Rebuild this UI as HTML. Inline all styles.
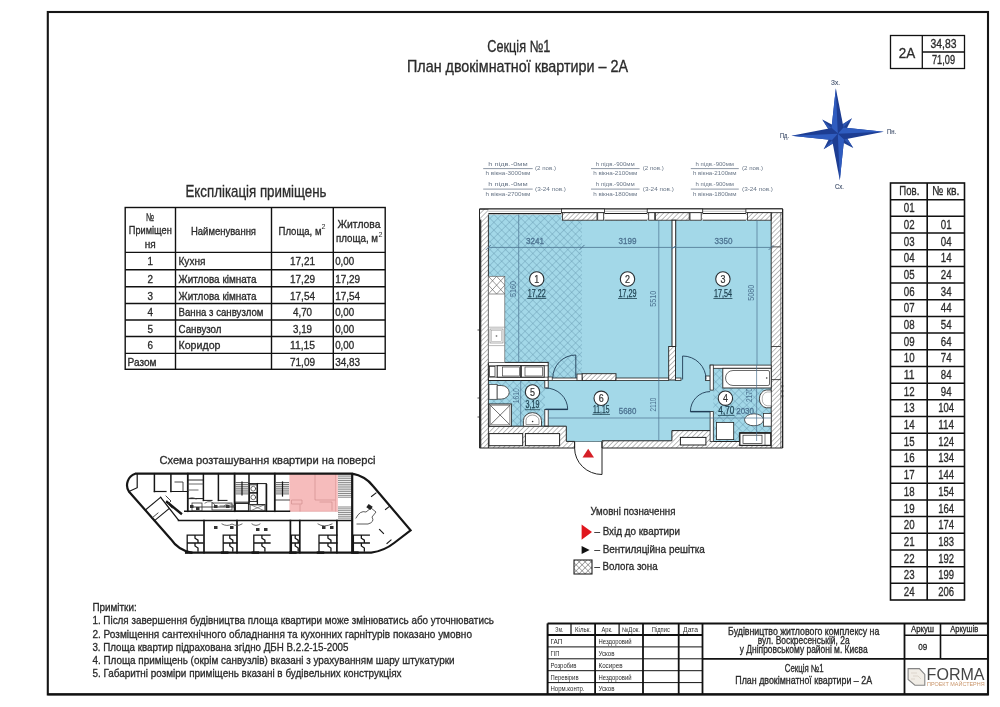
<!DOCTYPE html><html><head><meta charset="utf-8"><style>html,body{margin:0;padding:0;background:#fff;width:1000px;height:707px;overflow:hidden}svg{display:block;will-change:transform}text{font-family:"Liberation Sans",sans-serif}</style></head><body>
<svg width="1000" height="707" viewBox="0 0 1000 707">
<defs>
<pattern id="hatch" patternUnits="userSpaceOnUse" width="3.5" height="3.5" patternTransform="rotate(45)"><rect width="3.5" height="3.5" fill="#fff"/><line x1="0" y1="0" x2="0" y2="3.5" stroke="#8f8f8f" stroke-width="1.2"/></pattern>
<pattern id="cross" patternUnits="userSpaceOnUse" width="5.5" height="5.5" patternTransform="rotate(45)"><line x1="0" y1="0" x2="0" y2="5.5" stroke="#6496ad" stroke-width="0.8"/><line x1="0" y1="0" x2="5.5" y2="0" stroke="#6496ad" stroke-width="0.8"/></pattern>
<pattern id="crossk" patternUnits="userSpaceOnUse" width="4.2" height="4.2" patternTransform="rotate(45)"><line x1="0" y1="0" x2="0" y2="4.2" stroke="#333" stroke-width="0.75"/><line x1="0" y1="0" x2="4.2" y2="0" stroke="#333" stroke-width="0.75"/></pattern>
</defs>
<rect x="47.8" y="12" width="940.2" height="682.5" stroke="#161616" stroke-width="2.1" fill="none" />
<text x="518.8" y="51.8" font-size="16.2" text-anchor="middle" fill="#2b2b2b" textLength="63" lengthAdjust="spacingAndGlyphs" stroke="#2b2b2b" stroke-width="0.32">Секція №1</text>
<text x="517.5" y="71.5" font-size="16.2" text-anchor="middle" fill="#2b2b2b" textLength="221" lengthAdjust="spacingAndGlyphs" stroke="#2b2b2b" stroke-width="0.32">План двокімнатної квартири – 2А</text>
<rect x="890.5" y="35.5" width="74" height="33" stroke="#111" stroke-width="1.3" fill="none" />
<line x1="922.3" y1="35.5" x2="922.3" y2="68.5" stroke="#111" stroke-width="1.3"/>
<line x1="922.3" y1="52" x2="964.5" y2="52" stroke="#111" stroke-width="1.3"/>
<text x="907" y="57.6" font-size="15.34" text-anchor="middle" fill="#2b2b2b" textLength="16.5" lengthAdjust="spacingAndGlyphs" stroke="#2b2b2b" stroke-width="0.32">2A</text>
<text x="943.5" y="47.8" font-size="11.88" text-anchor="middle" fill="#2b2b2b" textLength="26" lengthAdjust="spacingAndGlyphs" stroke="#2b2b2b" stroke-width="0.32">34,83</text>
<text x="943.5" y="63.8" font-size="11.88" text-anchor="middle" fill="#2b2b2b" textLength="23" lengthAdjust="spacingAndGlyphs" stroke="#2b2b2b" stroke-width="0.32">71,09</text>
<g transform="translate(837.8,133.8) rotate(-2.5)">
<g transform="rotate(45)"><path d="M0,0.5 L-4.5,-4.5 L0,-21 L4.5,-4.5 Z" fill="#1e3f91"/><path d="M0,0 L-4.5,-4.5 L0,-21 Z" fill="#2d56b3"/></g>
<g transform="rotate(135)"><path d="M0,0.5 L-4.5,-4.5 L0,-21 L4.5,-4.5 Z" fill="#1e3f91"/><path d="M0,0 L-4.5,-4.5 L0,-21 Z" fill="#2d56b3"/></g>
<g transform="rotate(225)"><path d="M0,0.5 L-4.5,-4.5 L0,-21 L4.5,-4.5 Z" fill="#1e3f91"/><path d="M0,0 L-4.5,-4.5 L0,-21 Z" fill="#2d56b3"/></g>
<g transform="rotate(315)"><path d="M0,0.5 L-4.5,-4.5 L0,-21 L4.5,-4.5 Z" fill="#1e3f91"/><path d="M0,0 L-4.5,-4.5 L0,-21 Z" fill="#2d56b3"/></g>
<g transform="rotate(0)"><path d="M0,0.5 L-6.0,-6.0 L0,-45.5 L6.0,-6.0 Z" fill="#1d3d92"/><path d="M0,0 L-6.0,-6.0 L0,-45.5 Z" fill="#2f5cbf"/></g>
<g transform="rotate(90)"><path d="M0,0.5 L-6.0,-6.0 L0,-46 L6.0,-6.0 Z" fill="#1d3d92"/><path d="M0,0 L-6.0,-6.0 L0,-46 Z" fill="#2f5cbf"/></g>
<g transform="rotate(180)"><path d="M0,0.5 L-6.0,-6.0 L0,-46.5 L6.0,-6.0 Z" fill="#1d3d92"/><path d="M0,0 L-6.0,-6.0 L0,-46.5 Z" fill="#2f5cbf"/></g>
<g transform="rotate(270)"><path d="M0,0.5 L-6.0,-6.0 L0,-46.5 L6.0,-6.0 Z" fill="#1d3d92"/><path d="M0,0 L-6.0,-6.0 L0,-46.5 Z" fill="#2f5cbf"/></g>
</g>
<text x="835.5" y="84.5" font-size="6.8" text-anchor="middle" fill="#44536e" textLength="9" lengthAdjust="spacingAndGlyphs" stroke="#44536e" stroke-width="0.15">Зх.</text>
<text x="784.5" y="138" font-size="6.8" text-anchor="middle" fill="#44536e" textLength="9" lengthAdjust="spacingAndGlyphs" stroke="#44536e" stroke-width="0.15">Пд.</text>
<text x="891.5" y="134" font-size="6.8" text-anchor="middle" fill="#44536e" textLength="9" lengthAdjust="spacingAndGlyphs" stroke="#44536e" stroke-width="0.15">Пн.</text>
<text x="839.5" y="188.5" font-size="6.8" text-anchor="middle" fill="#44536e" textLength="9" lengthAdjust="spacingAndGlyphs" stroke="#44536e" stroke-width="0.15">Сх.</text>
<rect x="890.5" y="183.0" width="74.0" height="417.0" stroke="#111" stroke-width="1.6" fill="none" />
<line x1="927.2" y1="183.0" x2="927.2" y2="600.0" stroke="#111" stroke-width="1.6"/>
<line x1="890.5" y1="199.68" x2="964.5" y2="199.68" stroke="#111" stroke-width="1.5"/>
<line x1="890.5" y1="216.36" x2="964.5" y2="216.36" stroke="#111" stroke-width="1.5"/>
<line x1="890.5" y1="233.04" x2="964.5" y2="233.04" stroke="#111" stroke-width="1.5"/>
<line x1="890.5" y1="249.72" x2="964.5" y2="249.72" stroke="#111" stroke-width="1.5"/>
<line x1="890.5" y1="266.4" x2="964.5" y2="266.4" stroke="#111" stroke-width="1.5"/>
<line x1="890.5" y1="283.08" x2="964.5" y2="283.08" stroke="#111" stroke-width="1.5"/>
<line x1="890.5" y1="299.76" x2="964.5" y2="299.76" stroke="#111" stroke-width="1.5"/>
<line x1="890.5" y1="316.44" x2="964.5" y2="316.44" stroke="#111" stroke-width="1.5"/>
<line x1="890.5" y1="333.12" x2="964.5" y2="333.12" stroke="#111" stroke-width="1.5"/>
<line x1="890.5" y1="349.8" x2="964.5" y2="349.8" stroke="#111" stroke-width="1.5"/>
<line x1="890.5" y1="366.48" x2="964.5" y2="366.48" stroke="#111" stroke-width="1.5"/>
<line x1="890.5" y1="383.15999999999997" x2="964.5" y2="383.15999999999997" stroke="#111" stroke-width="1.5"/>
<line x1="890.5" y1="399.84000000000003" x2="964.5" y2="399.84000000000003" stroke="#111" stroke-width="1.5"/>
<line x1="890.5" y1="416.52" x2="964.5" y2="416.52" stroke="#111" stroke-width="1.5"/>
<line x1="890.5" y1="433.2" x2="964.5" y2="433.2" stroke="#111" stroke-width="1.5"/>
<line x1="890.5" y1="449.88" x2="964.5" y2="449.88" stroke="#111" stroke-width="1.5"/>
<line x1="890.5" y1="466.56" x2="964.5" y2="466.56" stroke="#111" stroke-width="1.5"/>
<line x1="890.5" y1="483.24" x2="964.5" y2="483.24" stroke="#111" stroke-width="1.5"/>
<line x1="890.5" y1="499.92" x2="964.5" y2="499.92" stroke="#111" stroke-width="1.5"/>
<line x1="890.5" y1="516.6" x2="964.5" y2="516.6" stroke="#111" stroke-width="1.5"/>
<line x1="890.5" y1="533.28" x2="964.5" y2="533.28" stroke="#111" stroke-width="1.5"/>
<line x1="890.5" y1="549.96" x2="964.5" y2="549.96" stroke="#111" stroke-width="1.5"/>
<line x1="890.5" y1="566.64" x2="964.5" y2="566.64" stroke="#111" stroke-width="1.5"/>
<line x1="890.5" y1="583.3199999999999" x2="964.5" y2="583.3199999999999" stroke="#111" stroke-width="1.5"/>
<text x="909.35" y="195.3" font-size="12.96" text-anchor="middle" fill="#2b2b2b" textLength="20" lengthAdjust="spacingAndGlyphs" stroke="#2b2b2b" stroke-width="0.32">Пов.</text>
<text x="945.85" y="195.3" font-size="12.96" text-anchor="middle" fill="#2b2b2b" textLength="27" lengthAdjust="spacingAndGlyphs" stroke="#2b2b2b" stroke-width="0.32">№ кв.</text>
<text x="909.15" y="212.28" font-size="12.96" text-anchor="middle" fill="#2b2b2b" textLength="10.8" lengthAdjust="spacingAndGlyphs" stroke="#2b2b2b" stroke-width="0.32">01</text>
<text x="909.15" y="228.96" font-size="12.96" text-anchor="middle" fill="#2b2b2b" textLength="10.8" lengthAdjust="spacingAndGlyphs" stroke="#2b2b2b" stroke-width="0.32">02</text>
<text x="946.15" y="228.96" font-size="12.96" text-anchor="middle" fill="#2b2b2b" textLength="10.8" lengthAdjust="spacingAndGlyphs" stroke="#2b2b2b" stroke-width="0.32">01</text>
<text x="909.15" y="245.64" font-size="12.96" text-anchor="middle" fill="#2b2b2b" textLength="10.8" lengthAdjust="spacingAndGlyphs" stroke="#2b2b2b" stroke-width="0.32">03</text>
<text x="946.15" y="245.64" font-size="12.96" text-anchor="middle" fill="#2b2b2b" textLength="10.8" lengthAdjust="spacingAndGlyphs" stroke="#2b2b2b" stroke-width="0.32">04</text>
<text x="909.15" y="262.32" font-size="12.96" text-anchor="middle" fill="#2b2b2b" textLength="10.8" lengthAdjust="spacingAndGlyphs" stroke="#2b2b2b" stroke-width="0.32">04</text>
<text x="946.15" y="262.32" font-size="12.96" text-anchor="middle" fill="#2b2b2b" textLength="10.8" lengthAdjust="spacingAndGlyphs" stroke="#2b2b2b" stroke-width="0.32">14</text>
<text x="909.15" y="279.0" font-size="12.96" text-anchor="middle" fill="#2b2b2b" textLength="10.8" lengthAdjust="spacingAndGlyphs" stroke="#2b2b2b" stroke-width="0.32">05</text>
<text x="946.15" y="279.0" font-size="12.96" text-anchor="middle" fill="#2b2b2b" textLength="10.8" lengthAdjust="spacingAndGlyphs" stroke="#2b2b2b" stroke-width="0.32">24</text>
<text x="909.15" y="295.68" font-size="12.96" text-anchor="middle" fill="#2b2b2b" textLength="10.8" lengthAdjust="spacingAndGlyphs" stroke="#2b2b2b" stroke-width="0.32">06</text>
<text x="946.15" y="295.68" font-size="12.96" text-anchor="middle" fill="#2b2b2b" textLength="10.8" lengthAdjust="spacingAndGlyphs" stroke="#2b2b2b" stroke-width="0.32">34</text>
<text x="909.15" y="312.36" font-size="12.96" text-anchor="middle" fill="#2b2b2b" textLength="10.8" lengthAdjust="spacingAndGlyphs" stroke="#2b2b2b" stroke-width="0.32">07</text>
<text x="946.15" y="312.36" font-size="12.96" text-anchor="middle" fill="#2b2b2b" textLength="10.8" lengthAdjust="spacingAndGlyphs" stroke="#2b2b2b" stroke-width="0.32">44</text>
<text x="909.15" y="329.04" font-size="12.96" text-anchor="middle" fill="#2b2b2b" textLength="10.8" lengthAdjust="spacingAndGlyphs" stroke="#2b2b2b" stroke-width="0.32">08</text>
<text x="946.15" y="329.04" font-size="12.96" text-anchor="middle" fill="#2b2b2b" textLength="10.8" lengthAdjust="spacingAndGlyphs" stroke="#2b2b2b" stroke-width="0.32">54</text>
<text x="909.15" y="345.72" font-size="12.96" text-anchor="middle" fill="#2b2b2b" textLength="10.8" lengthAdjust="spacingAndGlyphs" stroke="#2b2b2b" stroke-width="0.32">09</text>
<text x="946.15" y="345.72" font-size="12.96" text-anchor="middle" fill="#2b2b2b" textLength="10.8" lengthAdjust="spacingAndGlyphs" stroke="#2b2b2b" stroke-width="0.32">64</text>
<text x="909.15" y="362.40000000000003" font-size="12.96" text-anchor="middle" fill="#2b2b2b" textLength="10.8" lengthAdjust="spacingAndGlyphs" stroke="#2b2b2b" stroke-width="0.32">10</text>
<text x="946.15" y="362.40000000000003" font-size="12.96" text-anchor="middle" fill="#2b2b2b" textLength="10.8" lengthAdjust="spacingAndGlyphs" stroke="#2b2b2b" stroke-width="0.32">74</text>
<text x="909.15" y="379.08000000000004" font-size="12.96" text-anchor="middle" fill="#2b2b2b" textLength="10.8" lengthAdjust="spacingAndGlyphs" stroke="#2b2b2b" stroke-width="0.32">11</text>
<text x="946.15" y="379.08000000000004" font-size="12.96" text-anchor="middle" fill="#2b2b2b" textLength="10.8" lengthAdjust="spacingAndGlyphs" stroke="#2b2b2b" stroke-width="0.32">84</text>
<text x="909.15" y="395.76" font-size="12.96" text-anchor="middle" fill="#2b2b2b" textLength="10.8" lengthAdjust="spacingAndGlyphs" stroke="#2b2b2b" stroke-width="0.32">12</text>
<text x="946.15" y="395.76" font-size="12.96" text-anchor="middle" fill="#2b2b2b" textLength="10.8" lengthAdjust="spacingAndGlyphs" stroke="#2b2b2b" stroke-width="0.32">94</text>
<text x="909.15" y="412.44000000000005" font-size="12.96" text-anchor="middle" fill="#2b2b2b" textLength="10.8" lengthAdjust="spacingAndGlyphs" stroke="#2b2b2b" stroke-width="0.32">13</text>
<text x="946.15" y="412.44000000000005" font-size="12.96" text-anchor="middle" fill="#2b2b2b" textLength="15.8" lengthAdjust="spacingAndGlyphs" stroke="#2b2b2b" stroke-width="0.32">104</text>
<text x="909.15" y="429.12" font-size="12.96" text-anchor="middle" fill="#2b2b2b" textLength="10.8" lengthAdjust="spacingAndGlyphs" stroke="#2b2b2b" stroke-width="0.32">14</text>
<text x="946.15" y="429.12" font-size="12.96" text-anchor="middle" fill="#2b2b2b" textLength="15.8" lengthAdjust="spacingAndGlyphs" stroke="#2b2b2b" stroke-width="0.32">114</text>
<text x="909.15" y="445.8" font-size="12.96" text-anchor="middle" fill="#2b2b2b" textLength="10.8" lengthAdjust="spacingAndGlyphs" stroke="#2b2b2b" stroke-width="0.32">15</text>
<text x="946.15" y="445.8" font-size="12.96" text-anchor="middle" fill="#2b2b2b" textLength="15.8" lengthAdjust="spacingAndGlyphs" stroke="#2b2b2b" stroke-width="0.32">124</text>
<text x="909.15" y="462.48" font-size="12.96" text-anchor="middle" fill="#2b2b2b" textLength="10.8" lengthAdjust="spacingAndGlyphs" stroke="#2b2b2b" stroke-width="0.32">16</text>
<text x="946.15" y="462.48" font-size="12.96" text-anchor="middle" fill="#2b2b2b" textLength="15.8" lengthAdjust="spacingAndGlyphs" stroke="#2b2b2b" stroke-width="0.32">134</text>
<text x="909.15" y="479.16" font-size="12.96" text-anchor="middle" fill="#2b2b2b" textLength="10.8" lengthAdjust="spacingAndGlyphs" stroke="#2b2b2b" stroke-width="0.32">17</text>
<text x="946.15" y="479.16" font-size="12.96" text-anchor="middle" fill="#2b2b2b" textLength="15.8" lengthAdjust="spacingAndGlyphs" stroke="#2b2b2b" stroke-width="0.32">144</text>
<text x="909.15" y="495.84000000000003" font-size="12.96" text-anchor="middle" fill="#2b2b2b" textLength="10.8" lengthAdjust="spacingAndGlyphs" stroke="#2b2b2b" stroke-width="0.32">18</text>
<text x="946.15" y="495.84000000000003" font-size="12.96" text-anchor="middle" fill="#2b2b2b" textLength="15.8" lengthAdjust="spacingAndGlyphs" stroke="#2b2b2b" stroke-width="0.32">154</text>
<text x="909.15" y="512.52" font-size="12.96" text-anchor="middle" fill="#2b2b2b" textLength="10.8" lengthAdjust="spacingAndGlyphs" stroke="#2b2b2b" stroke-width="0.32">19</text>
<text x="946.15" y="512.52" font-size="12.96" text-anchor="middle" fill="#2b2b2b" textLength="15.8" lengthAdjust="spacingAndGlyphs" stroke="#2b2b2b" stroke-width="0.32">164</text>
<text x="909.15" y="529.2" font-size="12.96" text-anchor="middle" fill="#2b2b2b" textLength="10.8" lengthAdjust="spacingAndGlyphs" stroke="#2b2b2b" stroke-width="0.32">20</text>
<text x="946.15" y="529.2" font-size="12.96" text-anchor="middle" fill="#2b2b2b" textLength="15.8" lengthAdjust="spacingAndGlyphs" stroke="#2b2b2b" stroke-width="0.32">174</text>
<text x="909.15" y="545.88" font-size="12.96" text-anchor="middle" fill="#2b2b2b" textLength="10.8" lengthAdjust="spacingAndGlyphs" stroke="#2b2b2b" stroke-width="0.32">21</text>
<text x="946.15" y="545.88" font-size="12.96" text-anchor="middle" fill="#2b2b2b" textLength="15.8" lengthAdjust="spacingAndGlyphs" stroke="#2b2b2b" stroke-width="0.32">183</text>
<text x="909.15" y="562.5600000000001" font-size="12.96" text-anchor="middle" fill="#2b2b2b" textLength="10.8" lengthAdjust="spacingAndGlyphs" stroke="#2b2b2b" stroke-width="0.32">22</text>
<text x="946.15" y="562.5600000000001" font-size="12.96" text-anchor="middle" fill="#2b2b2b" textLength="15.8" lengthAdjust="spacingAndGlyphs" stroke="#2b2b2b" stroke-width="0.32">192</text>
<text x="909.15" y="579.24" font-size="12.96" text-anchor="middle" fill="#2b2b2b" textLength="10.8" lengthAdjust="spacingAndGlyphs" stroke="#2b2b2b" stroke-width="0.32">23</text>
<text x="946.15" y="579.24" font-size="12.96" text-anchor="middle" fill="#2b2b2b" textLength="15.8" lengthAdjust="spacingAndGlyphs" stroke="#2b2b2b" stroke-width="0.32">199</text>
<text x="909.15" y="595.92" font-size="12.96" text-anchor="middle" fill="#2b2b2b" textLength="10.8" lengthAdjust="spacingAndGlyphs" stroke="#2b2b2b" stroke-width="0.32">24</text>
<text x="946.15" y="595.92" font-size="12.96" text-anchor="middle" fill="#2b2b2b" textLength="15.8" lengthAdjust="spacingAndGlyphs" stroke="#2b2b2b" stroke-width="0.32">206</text>
<text x="256" y="197" font-size="16.2" text-anchor="middle" fill="#2b2b2b" textLength="141" lengthAdjust="spacingAndGlyphs" stroke="#2b2b2b" stroke-width="0.32">Експлікація приміщень</text>
<rect x="125.2" y="207.5" width="260.0" height="161.8" stroke="#111" stroke-width="1.4" fill="none" />
<line x1="175.5" y1="207.5" x2="175.5" y2="369.3" stroke="#111" stroke-width="1.4"/>
<line x1="271.5" y1="207.5" x2="271.5" y2="369.3" stroke="#111" stroke-width="1.4"/>
<line x1="333.3" y1="207.5" x2="333.3" y2="369.3" stroke="#111" stroke-width="1.4"/>
<line x1="125.2" y1="252.4" x2="385.2" y2="252.4" stroke="#111" stroke-width="1.4"/>
<line x1="125.2" y1="269.8" x2="385.2" y2="269.8" stroke="#111" stroke-width="1.4"/>
<line x1="125.2" y1="286.7" x2="385.2" y2="286.7" stroke="#111" stroke-width="1.4"/>
<line x1="125.2" y1="303.5" x2="385.2" y2="303.5" stroke="#111" stroke-width="1.4"/>
<line x1="125.2" y1="320.0" x2="385.2" y2="320.0" stroke="#111" stroke-width="1.4"/>
<line x1="125.2" y1="336.5" x2="385.2" y2="336.5" stroke="#111" stroke-width="1.4"/>
<line x1="125.2" y1="353.4" x2="385.2" y2="353.4" stroke="#111" stroke-width="1.4"/>
<text x="150" y="221.3" font-size="11.34" text-anchor="middle" fill="#2b2b2b" textLength="8" lengthAdjust="spacingAndGlyphs" stroke="#2b2b2b" stroke-width="0.32">№</text>
<text x="150.3" y="233.5" font-size="10.8" text-anchor="middle" fill="#2b2b2b" textLength="43" lengthAdjust="spacingAndGlyphs" stroke="#2b2b2b" stroke-width="0.32">Приміщен</text>
<text x="150.3" y="247.5" font-size="10.8" text-anchor="middle" fill="#2b2b2b" textLength="11" lengthAdjust="spacingAndGlyphs" stroke="#2b2b2b" stroke-width="0.32">ня</text>
<text x="223.5" y="235" font-size="10.8" text-anchor="middle" fill="#2b2b2b" textLength="65" lengthAdjust="spacingAndGlyphs" stroke="#2b2b2b" stroke-width="0.32">Найменування</text>
<text x="300" y="234.5" font-size="10.8" text-anchor="middle" fill="#2b2b2b" textLength="43" lengthAdjust="spacingAndGlyphs" stroke="#2b2b2b" stroke-width="0.32">Площа, м</text>
<text x="323.5" y="229" font-size="7" text-anchor="middle" fill="#2b2b2b" textLength="4" lengthAdjust="spacingAndGlyphs" >2</text>
<text x="359" y="228" font-size="10.8" text-anchor="middle" fill="#2b2b2b" textLength="43" lengthAdjust="spacingAndGlyphs" stroke="#2b2b2b" stroke-width="0.32">Житлова</text>
<text x="357" y="242" font-size="10.8" text-anchor="middle" fill="#2b2b2b" textLength="42" lengthAdjust="spacingAndGlyphs" stroke="#2b2b2b" stroke-width="0.32">площа, м</text>
<text x="380.5" y="237" font-size="7" text-anchor="middle" fill="#2b2b2b" textLength="4" lengthAdjust="spacingAndGlyphs" >2</text>
<text x="150.3" y="265.2" font-size="10.8" text-anchor="middle" fill="#2b2b2b" textLength="5.5" lengthAdjust="spacingAndGlyphs" stroke="#2b2b2b" stroke-width="0.32">1</text>
<text x="178.5" y="265.2" font-size="10.8" text-anchor="start" fill="#2b2b2b" textLength="27" lengthAdjust="spacingAndGlyphs" stroke="#2b2b2b" stroke-width="0.32">Кухня</text>
<text x="302.5" y="265.2" font-size="10.8" text-anchor="middle" fill="#2b2b2b" textLength="25" lengthAdjust="spacingAndGlyphs" stroke="#2b2b2b" stroke-width="0.32">17,21</text>
<text x="335.2" y="265.2" font-size="10.8" text-anchor="start" fill="#2b2b2b" textLength="19" lengthAdjust="spacingAndGlyphs" stroke="#2b2b2b" stroke-width="0.32">0,00</text>
<text x="150.3" y="282.6" font-size="10.8" text-anchor="middle" fill="#2b2b2b" textLength="5.5" lengthAdjust="spacingAndGlyphs" stroke="#2b2b2b" stroke-width="0.32">2</text>
<text x="178.5" y="282.6" font-size="10.8" text-anchor="start" fill="#2b2b2b" textLength="78" lengthAdjust="spacingAndGlyphs" stroke="#2b2b2b" stroke-width="0.32">Житлова кімната</text>
<text x="302.5" y="282.6" font-size="10.8" text-anchor="middle" fill="#2b2b2b" textLength="25" lengthAdjust="spacingAndGlyphs" stroke="#2b2b2b" stroke-width="0.32">17,29</text>
<text x="335.2" y="282.6" font-size="10.8" text-anchor="start" fill="#2b2b2b" textLength="25" lengthAdjust="spacingAndGlyphs" stroke="#2b2b2b" stroke-width="0.32">17,29</text>
<text x="150.3" y="299.5" font-size="10.8" text-anchor="middle" fill="#2b2b2b" textLength="5.5" lengthAdjust="spacingAndGlyphs" stroke="#2b2b2b" stroke-width="0.32">3</text>
<text x="178.5" y="299.5" font-size="10.8" text-anchor="start" fill="#2b2b2b" textLength="78" lengthAdjust="spacingAndGlyphs" stroke="#2b2b2b" stroke-width="0.32">Житлова кімната</text>
<text x="302.5" y="299.5" font-size="10.8" text-anchor="middle" fill="#2b2b2b" textLength="25" lengthAdjust="spacingAndGlyphs" stroke="#2b2b2b" stroke-width="0.32">17,54</text>
<text x="335.2" y="299.5" font-size="10.8" text-anchor="start" fill="#2b2b2b" textLength="25" lengthAdjust="spacingAndGlyphs" stroke="#2b2b2b" stroke-width="0.32">17,54</text>
<text x="150.3" y="316.3" font-size="10.8" text-anchor="middle" fill="#2b2b2b" textLength="5.5" lengthAdjust="spacingAndGlyphs" stroke="#2b2b2b" stroke-width="0.32">4</text>
<text x="178.5" y="316.3" font-size="10.8" text-anchor="start" fill="#2b2b2b" textLength="85" lengthAdjust="spacingAndGlyphs" stroke="#2b2b2b" stroke-width="0.32">Ванна з санвузлом</text>
<text x="302.5" y="316.3" font-size="10.8" text-anchor="middle" fill="#2b2b2b" textLength="19" lengthAdjust="spacingAndGlyphs" stroke="#2b2b2b" stroke-width="0.32">4,70</text>
<text x="335.2" y="316.3" font-size="10.8" text-anchor="start" fill="#2b2b2b" textLength="19" lengthAdjust="spacingAndGlyphs" stroke="#2b2b2b" stroke-width="0.32">0,00</text>
<text x="150.3" y="332.8" font-size="10.8" text-anchor="middle" fill="#2b2b2b" textLength="5.5" lengthAdjust="spacingAndGlyphs" stroke="#2b2b2b" stroke-width="0.32">5</text>
<text x="178.5" y="332.8" font-size="10.8" text-anchor="start" fill="#2b2b2b" textLength="43" lengthAdjust="spacingAndGlyphs" stroke="#2b2b2b" stroke-width="0.32">Санвузол</text>
<text x="302.5" y="332.8" font-size="10.8" text-anchor="middle" fill="#2b2b2b" textLength="19" lengthAdjust="spacingAndGlyphs" stroke="#2b2b2b" stroke-width="0.32">3,19</text>
<text x="335.2" y="332.8" font-size="10.8" text-anchor="start" fill="#2b2b2b" textLength="19" lengthAdjust="spacingAndGlyphs" stroke="#2b2b2b" stroke-width="0.32">0,00</text>
<text x="150.3" y="349.3" font-size="10.8" text-anchor="middle" fill="#2b2b2b" textLength="5.5" lengthAdjust="spacingAndGlyphs" stroke="#2b2b2b" stroke-width="0.32">6</text>
<text x="178.5" y="349.3" font-size="10.8" text-anchor="start" fill="#2b2b2b" textLength="42" lengthAdjust="spacingAndGlyphs" stroke="#2b2b2b" stroke-width="0.32">Коридор</text>
<text x="302.5" y="349.3" font-size="10.8" text-anchor="middle" fill="#2b2b2b" textLength="25" lengthAdjust="spacingAndGlyphs" stroke="#2b2b2b" stroke-width="0.32">11,15</text>
<text x="335.2" y="349.3" font-size="10.8" text-anchor="start" fill="#2b2b2b" textLength="19" lengthAdjust="spacingAndGlyphs" stroke="#2b2b2b" stroke-width="0.32">0,00</text>
<text x="127.5" y="366.2" font-size="10.8" text-anchor="start" fill="#2b2b2b" textLength="29" lengthAdjust="spacingAndGlyphs" stroke="#2b2b2b" stroke-width="0.32">Разом</text>
<text x="302.5" y="366.2" font-size="10.8" text-anchor="middle" fill="#2b2b2b" textLength="25" lengthAdjust="spacingAndGlyphs" stroke="#2b2b2b" stroke-width="0.32">71,09</text>
<text x="335.2" y="366.2" font-size="10.8" text-anchor="start" fill="#2b2b2b" textLength="25" lengthAdjust="spacingAndGlyphs" stroke="#2b2b2b" stroke-width="0.32">34,83</text>
<g id="plan">
<polygon points="479.5,209 782.6,209 782.6,448 602,448 602,441.4 574.6,441.4 574.6,448 479.5,448" fill="url(#hatch)" stroke="#222" stroke-width="1.0" />
<polygon points="488.4,214.5 561.4,214.5 561.4,220.2 771.2,220.2 771.2,432.6 739.4,432.6 739.4,441.5 710.1,441.5 710.1,430.6 671.9,430.6 671.9,440.8 602,440.8 602,441.4 566.3,441.4 566.3,426.2 488.4,426.2" fill="#a3d8e8" stroke="none" stroke-width="0" />
<rect x="488.4" y="214.5" width="93.6" height="147.9" stroke="none" stroke-width="0" fill="url(#cross)" />
<rect x="548.2" y="362.4" width="33.8" height="15.6" stroke="none" stroke-width="0" fill="url(#cross)" />
<rect x="488.4" y="380.5" width="56.4" height="45.7" stroke="none" stroke-width="0" fill="url(#cross)" />
<polygon points="713.3,368.3 771.2,368.3 771.2,432.6 739.4,432.6 739.4,441.5 713.3,441.5" fill="url(#cross)" stroke="none" stroke-width="0" />
<rect x="488.4" y="209" width="73.0" height="5.5" stroke="none" stroke-width="0" fill="#fff" />
<line x1="488.4" y1="211.3" x2="561.4" y2="211.3" stroke="#888" stroke-width="0.5"/>
<line x1="488.4" y1="213.6" x2="561.4" y2="213.6" stroke="#222" stroke-width="1.1"/>
<rect x="604.5" y="209" width="42.700000000000045" height="5.5" stroke="none" stroke-width="0" fill="#fff" />
<line x1="604.5" y1="211.3" x2="647.2" y2="211.3" stroke="#888" stroke-width="0.5"/>
<line x1="604.5" y1="213.6" x2="647.2" y2="213.6" stroke="#222" stroke-width="1.1"/>
<rect x="702.7" y="209" width="43.19999999999993" height="5.5" stroke="none" stroke-width="0" fill="#fff" />
<line x1="702.7" y1="211.3" x2="745.9" y2="211.3" stroke="#888" stroke-width="0.5"/>
<line x1="702.7" y1="213.6" x2="745.9" y2="213.6" stroke="#222" stroke-width="1.1"/>
<rect x="604.5" y="214" width="42.700000000000045" height="6.2" stroke="none" stroke-width="0" fill="#fff" />
<line x1="604.5" y1="220.2" x2="647.2" y2="220.2" stroke="#222" stroke-width="0.9"/>
<rect x="702.7" y="214" width="43.19999999999993" height="6.2" stroke="none" stroke-width="0" fill="#fff" />
<line x1="702.7" y1="220.2" x2="745.9" y2="220.2" stroke="#222" stroke-width="0.9"/>
<line x1="479.5" y1="209" x2="782.6" y2="209" stroke="#222" stroke-width="1.1"/>
<rect x="561.4" y="209" width="43.10000000000002" height="3.7" stroke="#222" stroke-width="0.8" fill="#fff" />
<rect x="647.2" y="209" width="55.5" height="3.7" stroke="#222" stroke-width="0.8" fill="#fff" />
<rect x="745.9" y="209" width="36.700000000000045" height="3.7" stroke="#222" stroke-width="0.8" fill="#fff" />
<rect x="562.5" y="212.7" width="34.5" height="7.5" stroke="#222" stroke-width="0.8" fill="url(#hatch)" />
<rect x="597.7" y="212.7" width="6" height="7.5" stroke="#222" stroke-width="0.8" fill="#fff" />
<rect x="648.7" y="212.7" width="6" height="7.5" stroke="#222" stroke-width="0.8" fill="#fff" />
<rect x="655.5" y="212.7" width="33.7" height="7.5" stroke="#222" stroke-width="0.8" fill="url(#hatch)" />
<rect x="690" y="212.7" width="11.2" height="7.5" stroke="#222" stroke-width="0.8" fill="#fff" />
<rect x="747.5" y="212.7" width="23.7" height="7.5" stroke="#222" stroke-width="0.8" fill="url(#hatch)" />
<line x1="479.5" y1="209" x2="479.5" y2="448" stroke="#222" stroke-width="1.0"/>
<line x1="480.4" y1="219.5" x2="480.4" y2="448" stroke="#333" stroke-width="1.8"/>
<line x1="488.4" y1="214.5" x2="488.4" y2="448" stroke="#222" stroke-width="0.9"/>
<line x1="771.2" y1="212.7" x2="771.2" y2="448" stroke="#222" stroke-width="0.9"/>
<line x1="780.8" y1="212.7" x2="780.8" y2="448" stroke="#222" stroke-width="0.6"/>
<line x1="782.6" y1="209" x2="782.6" y2="448" stroke="#222" stroke-width="1.2"/>
<line x1="771.2" y1="246.9" x2="780.8" y2="246.9" stroke="#222" stroke-width="0.8"/>
<line x1="771.2" y1="346.5" x2="780.8" y2="346.5" stroke="#222" stroke-width="0.8"/>
<line x1="771.2" y1="379.6" x2="780.8" y2="379.6" stroke="#222" stroke-width="0.8"/>
<line x1="780.8" y1="386" x2="783.5" y2="386" stroke="#222" stroke-width="0.8"/>
<line x1="780.8" y1="391" x2="783.5" y2="391" stroke="#222" stroke-width="0.8"/>
<line x1="780.8" y1="396" x2="783.5" y2="396" stroke="#222" stroke-width="0.8"/>
<line x1="477.5" y1="330" x2="480" y2="330" stroke="#222" stroke-width="0.8"/>
<line x1="477.5" y1="398" x2="480" y2="398" stroke="#222" stroke-width="0.8"/>
<line x1="477.5" y1="417" x2="480" y2="417" stroke="#222" stroke-width="0.8"/>
<rect x="672" y="220.2" width="3.7" height="126.3" stroke="#222" stroke-width="1.0" fill="#fff" />
<rect x="668.7" y="346.5" width="6.8" height="33.5" stroke="#222" stroke-width="0.9" fill="url(#hatch)" />
<rect x="582" y="373.7" width="34" height="6.8" stroke="#222" stroke-width="0.9" fill="url(#hatch)" />
<rect x="548.2" y="378" width="33.8" height="2.5" stroke="#222" stroke-width="0.8" fill="#fff" />
<rect x="616" y="378" width="52.7" height="2.5" stroke="#222" stroke-width="0.8" fill="#fff" />
<rect x="675.5" y="378" width="5.5" height="2.5" stroke="#222" stroke-width="0.8" fill="#fff" />
<rect x="705.5" y="376" width="4.6" height="4.5" stroke="#222" stroke-width="0.8" fill="#fff" />
<rect x="577" y="374" width="5" height="6.5" stroke="#222" stroke-width="0.8" fill="#fff" />
<rect x="488.4" y="362.4" width="59.8" height="18.1" stroke="#222" stroke-width="1.0" fill="#fff" />
<line x1="488.4" y1="365.7" x2="548.2" y2="365.7" stroke="#222" stroke-width="0.7"/>
<line x1="488.4" y1="377.2" x2="548.2" y2="377.2" stroke="#222" stroke-width="0.7"/>
<rect x="489.4" y="366.5" width="5.6" height="10" stroke="#222" stroke-width="0.7" fill="#fff" />
<rect x="497.2" y="365.7" width="23.5" height="11.5" stroke="#222" stroke-width="1.0" fill="#fff" />
<rect x="502.5" y="367" width="16.8" height="9" stroke="#222" stroke-width="0.6" fill="#fff" />
<rect x="521.3" y="365.7" width="22.9" height="11.5" stroke="#222" stroke-width="1.0" fill="#fff" />
<rect x="525" y="367" width="17.5" height="9" stroke="#222" stroke-width="0.6" fill="#fff" />
<rect x="548.2" y="377" width="4" height="3.5" stroke="#222" stroke-width="0.7" fill="#fff" />
<rect x="544.8" y="380.5" width="3.4" height="7.5" stroke="#222" stroke-width="0.8" fill="#fff" />
<rect x="544.8" y="409.4" width="3.4" height="16.8" stroke="#222" stroke-width="0.8" fill="#fff" />
<rect x="710.1" y="365.1" width="61.1" height="3.2" stroke="#222" stroke-width="0.8" fill="#fff" />
<rect x="710.1" y="365.1" width="3.2" height="25" stroke="#222" stroke-width="0.8" fill="#fff" />
<rect x="710.1" y="411.6" width="3.2" height="29.9" stroke="#222" stroke-width="0.8" fill="#fff" />
<path d="M488.4,426.2 H566.3 V441.4 H574.6 V448 M602,448 V440.8 H671.9 V430.6 H710.1 M713.3,441.5 H739.4 V432.6 H771.2" fill="none" stroke="#222" stroke-width="1.0" />
<rect x="489" y="433.6" width="33.7" height="12.1" stroke="#222" stroke-width="1.0" fill="#fff" />
<rect x="525.4" y="433.6" width="34.2" height="12.1" stroke="#222" stroke-width="1.0" fill="#fff" />
<rect x="680.4" y="437.4" width="25.5" height="7.6" stroke="#222" stroke-width="1.0" fill="#fff" />
<rect x="739.8" y="433.2" width="31" height="12.2" stroke="#222" stroke-width="1.3" fill="#fff" />
<rect x="743" y="435.2" width="19" height="8.2" stroke="#222" stroke-width="0.7" fill="#fff" />
<line x1="765" y1="433.2" x2="765" y2="445.4" stroke="#222" stroke-width="0.6"/>
<rect x="488.4" y="276.3" width="16.4" height="86.1" stroke="#666" stroke-width="0.7" fill="#fff" />
<path d="M488.4,276.3 L504.8,294 M504.8,276.3 L488.4,294 M496.6,276.3 L488.4,285.15 L496.6,294 L504.8,285.15 Z" fill="none" stroke="#555" stroke-width="0.6" />
<line x1="488.4" y1="294" x2="504.8" y2="294" stroke="#666" stroke-width="0.7"/>
<line x1="488.4" y1="327.2" x2="504.8" y2="327.2" stroke="#888" stroke-width="0.6"/>
<line x1="488.4" y1="345.6" x2="504.8" y2="345.6" stroke="#888" stroke-width="0.6"/>
<rect x="490" y="329" width="13" height="14" stroke="#777" stroke-width="0.6" fill="#fff" />
<rect x="491.5" y="330.5" width="10" height="11" stroke="#999" stroke-width="0.5" fill="none" />
<circle cx="496.5" cy="336" r="0.9" fill="#888"/>
<rect x="489" y="384.5" width="8.2" height="14.8" stroke="#333" stroke-width="0.7" fill="#fff" />
<path d="M497.2,385.5 h4 a8,6.8 0 0 1 0,13.6 h-4 z" fill="#fff" stroke="#333" stroke-width="0.8" />
<rect x="489" y="404" width="22.3" height="22.2" stroke="#222" stroke-width="1.0" fill="#fff" />
<rect x="490.5" y="405.5" width="19.3" height="19.2" stroke="#555" stroke-width="0.5" fill="none" />
<line x1="490.5" y1="405.5" x2="509.8" y2="424.7" stroke="#333" stroke-width="0.7"/>
<line x1="509.8" y1="405.5" x2="490.5" y2="424.7" stroke="#333" stroke-width="0.7"/>
<path d="M523.4,426.2 v-5.5 a9,8 0 0 1 18.1,0 v5.5 z" fill="#fff" stroke="#333" stroke-width="0.9" />
<path d="M526,424.5 v-4 a6.5,5.5 0 0 1 13,0 v4 z" fill="#fff" stroke="#555" stroke-width="0.6" />
<circle cx="532.6" cy="421.5" r="0.8" fill="#333"/>
<rect x="722.8" y="368.3" width="48.4" height="19.7" stroke="#222" stroke-width="0.9" fill="#fff" />
<path d="M733,370.5 h35 a1.5,1.5 0 0 1 1.5,1.5 v12 a1.5,1.5 0 0 1 -1.5,1.5 h-35 a7.5,7.5 0 0 1 0,-15 z" fill="#fff" stroke="#444" stroke-width="0.8" />
<circle cx="766.7" cy="378" r="0.8" fill="#333"/>
<path d="M771.2,390 h-5 a8,9 0 0 0 0,17.8 h5 z" fill="#fff" stroke="#333" stroke-width="0.9" />
<path d="M771.2,392 h-4 a6,7 0 0 0 0,13.8 h4 z" fill="#fff" stroke="#666" stroke-width="0.5" />
<rect x="763.6" y="413.5" width="7.6" height="12.7" stroke="#333" stroke-width="0.8" fill="#fff" />
<ellipse cx="754" cy="419.8" rx="9.5" ry="6" fill="#fff" stroke="#333" stroke-width="0.8"/>
<rect x="716.5" y="422.4" width="17.2" height="17.2" stroke="#222" stroke-width="0.8" fill="#fff" />
<path d="M575.8,378 V355 A23,23 0 0 0 552.8,378" fill="none" stroke="#1f3b55" stroke-width="0.9" />
<path d="M682.6,379.5 V356 A23.5,23.5 0 0 1 706.1,379.5" fill="none" stroke="#1f3b55" stroke-width="0.9" />
<path d="M710.1,411.6 H690.4 A19.7,20 0 0 1 710.1,391.6" fill="none" stroke="#1f3b55" stroke-width="0.9" />
<line x1="690.4" y1="411.6" x2="710.1" y2="411.6" stroke="#1f3b55" stroke-width="1.4"/>
<path d="M545.5,409.4 H567.7 A22.2,21.4 0 0 0 545.5,388" fill="none" stroke="#1f3b55" stroke-width="0.9" />
<line x1="545.5" y1="409.4" x2="567.7" y2="409.4" stroke="#1f3b55" stroke-width="1.4"/>
<path d="M574.6,448 A27.4,26.5 0 0 0 602,474.5 V448" fill="#fff" stroke="#222" stroke-width="1.0" />
<polygon points="582.5,457.5 594,457.5 588.2,448.8" fill="#d61f26" stroke="none" stroke-width="0" />
<line x1="488.4" y1="247.4" x2="771.2" y2="247.4" stroke="#4d7391" stroke-width="0.8"/>
<line x1="485.9" y1="249.9" x2="490.9" y2="244.9" stroke="#4d7391" stroke-width="0.9"/>
<line x1="579.5" y1="249.9" x2="584.5" y2="244.9" stroke="#4d7391" stroke-width="0.9"/>
<line x1="671.3" y1="249.9" x2="676.3" y2="244.9" stroke="#4d7391" stroke-width="0.9"/>
<line x1="768.7" y1="249.9" x2="773.7" y2="244.9" stroke="#4d7391" stroke-width="0.9"/>
<line x1="518.7" y1="214.5" x2="518.7" y2="362.4" stroke="#4d7391" stroke-width="0.7"/>
<line x1="658.8" y1="220.2" x2="658.8" y2="440.8" stroke="#4d7391" stroke-width="0.7"/>
<line x1="757" y1="220.2" x2="757" y2="365.1" stroke="#4d7391" stroke-width="0.7"/>
<line x1="520.7" y1="380.5" x2="520.7" y2="426.2" stroke="#4d7391" stroke-width="0.7"/>
<line x1="756.6" y1="365.1" x2="756.6" y2="441" stroke="#4d7391" stroke-width="0.7"/>
<line x1="548.2" y1="418" x2="771.2" y2="418" stroke="#4d7391" stroke-width="0.7"/>
<text x="535" y="244.2" font-size="9.72" text-anchor="middle" fill="#4d7391" textLength="18" lengthAdjust="spacingAndGlyphs" stroke="#4d7391" stroke-width="0.32">3241</text>
<text x="627.5" y="244.2" font-size="9.72" text-anchor="middle" fill="#4d7391" textLength="18" lengthAdjust="spacingAndGlyphs" stroke="#4d7391" stroke-width="0.32">3199</text>
<text x="723.5" y="244.2" font-size="9.72" text-anchor="middle" fill="#4d7391" textLength="18" lengthAdjust="spacingAndGlyphs" stroke="#4d7391" stroke-width="0.32">3350</text>
<text transform="translate(515.6,289) rotate(-90)" font-size="8.5" text-anchor="middle" fill="#4d7391" textLength="16" lengthAdjust="spacingAndGlyphs">5160</text>
<text transform="translate(655.5,298.7) rotate(-90)" font-size="8.5" text-anchor="middle" fill="#4d7391" textLength="16" lengthAdjust="spacingAndGlyphs">5510</text>
<text transform="translate(753.5,292.8) rotate(-90)" font-size="8.5" text-anchor="middle" fill="#4d7391" textLength="16" lengthAdjust="spacingAndGlyphs">5080</text>
<text transform="translate(518.5,395.7) rotate(-90)" font-size="8.5" text-anchor="middle" fill="#4d7391" textLength="15" lengthAdjust="spacingAndGlyphs">1610</text>
<text transform="translate(655.5,404.6) rotate(-90)" font-size="8.5" text-anchor="middle" fill="#4d7391" textLength="14" lengthAdjust="spacingAndGlyphs">2110</text>
<text transform="translate(751.5,395) rotate(-90)" font-size="8.5" text-anchor="middle" fill="#4d7391" textLength="14" lengthAdjust="spacingAndGlyphs">2170</text>
<text x="627.6" y="414.4" font-size="9.18" text-anchor="middle" fill="#4d7391" textLength="17.5" lengthAdjust="spacingAndGlyphs" stroke="#4d7391" stroke-width="0.32">5680</text>
<text x="745.1" y="413.5" font-size="9.18" text-anchor="middle" fill="#4d7391" textLength="17.8" lengthAdjust="spacingAndGlyphs" stroke="#4d7391" stroke-width="0.32">2030</text>
<circle cx="536.7" cy="279" r="7.2" fill="#fff" stroke="#2a2f33" stroke-width="1.1"/>
<text x="536.7" y="282.6" font-size="10.8" text-anchor="middle" fill="#333" textLength="5" lengthAdjust="spacingAndGlyphs" stroke="#333" stroke-width="0.2">1</text>
<text x="536.7" y="296.8" font-size="10.26" text-anchor="middle" fill="#1f4252" textLength="18" lengthAdjust="spacingAndGlyphs" stroke="#1f4252" stroke-width="0.25">17,22</text>
<line x1="527.2" y1="298.5" x2="546.2" y2="298.5" stroke="#1f4252" stroke-width="0.8"/>
<circle cx="627.5" cy="279" r="7.2" fill="#fff" stroke="#2a2f33" stroke-width="1.1"/>
<text x="627.5" y="282.6" font-size="10.8" text-anchor="middle" fill="#333" textLength="5" lengthAdjust="spacingAndGlyphs" stroke="#333" stroke-width="0.2">2</text>
<text x="627.5" y="296.8" font-size="10.26" text-anchor="middle" fill="#1f4252" textLength="18" lengthAdjust="spacingAndGlyphs" stroke="#1f4252" stroke-width="0.25">17,29</text>
<line x1="618.0" y1="298.5" x2="637.0" y2="298.5" stroke="#1f4252" stroke-width="0.8"/>
<circle cx="722.9" cy="279" r="7.2" fill="#fff" stroke="#2a2f33" stroke-width="1.1"/>
<text x="722.9" y="282.6" font-size="10.8" text-anchor="middle" fill="#333" textLength="5" lengthAdjust="spacingAndGlyphs" stroke="#333" stroke-width="0.2">3</text>
<text x="722.9" y="296.8" font-size="10.26" text-anchor="middle" fill="#1f4252" textLength="18" lengthAdjust="spacingAndGlyphs" stroke="#1f4252" stroke-width="0.25">17,54</text>
<line x1="713.4" y1="298.5" x2="732.4" y2="298.5" stroke="#1f4252" stroke-width="0.8"/>
<circle cx="532.5" cy="392" r="7.2" fill="#fff" stroke="#2a2f33" stroke-width="1.1"/>
<text x="532.5" y="395.6" font-size="10.8" text-anchor="middle" fill="#333" textLength="5" lengthAdjust="spacingAndGlyphs" stroke="#333" stroke-width="0.2">5</text>
<text x="532.5" y="408" font-size="10.26" text-anchor="middle" fill="#1f4252" textLength="14" lengthAdjust="spacingAndGlyphs" stroke="#1f4252" stroke-width="0.25">3,19</text>
<line x1="525.0" y1="409.7" x2="540.0" y2="409.7" stroke="#1f4252" stroke-width="0.8"/>
<circle cx="601.2" cy="398.3" r="7.2" fill="#fff" stroke="#2a2f33" stroke-width="1.1"/>
<text x="601.2" y="401.90000000000003" font-size="10.8" text-anchor="middle" fill="#333" textLength="5" lengthAdjust="spacingAndGlyphs" stroke="#333" stroke-width="0.2">6</text>
<text x="601.2" y="412.7" font-size="10.26" text-anchor="middle" fill="#1f4252" textLength="16.5" lengthAdjust="spacingAndGlyphs" stroke="#1f4252" stroke-width="0.25">11,15</text>
<line x1="592.45" y1="414.4" x2="609.95" y2="414.4" stroke="#1f4252" stroke-width="0.8"/>
<circle cx="725.4" cy="398.2" r="7.2" fill="#fff" stroke="#2a2f33" stroke-width="1.1"/>
<text x="725.4" y="401.8" font-size="10.8" text-anchor="middle" fill="#333" textLength="5" lengthAdjust="spacingAndGlyphs" stroke="#333" stroke-width="0.2">4</text>
<text x="726.3" y="413.5" font-size="10.26" text-anchor="middle" fill="#1f4252" textLength="15.9" lengthAdjust="spacingAndGlyphs" stroke="#1f4252" stroke-width="0.25">4,70</text>
<line x1="718" y1="415.4" x2="734.5" y2="415.4" stroke="#1f4252" stroke-width="0.8"/>
<line x1="483.2" y1="168.6" x2="532.7" y2="168.6" stroke="#5f6d80" stroke-width="0.7"/>
<text x="507.95000000000005" y="165.6" font-size="5.0" text-anchor="middle" fill="#6a7788" textLength="39.6" lengthAdjust="spacingAndGlyphs" >h підв.-0мм</text>
<text x="507.95000000000005" y="175.4" font-size="5.0" text-anchor="middle" fill="#6a7788" textLength="45.0" lengthAdjust="spacingAndGlyphs" >h вікна-3000мм</text>
<text x="535" y="170.4" font-size="5.2" text-anchor="start" fill="#6a7788" textLength="21" lengthAdjust="spacingAndGlyphs" >(2 пов.)</text>
<line x1="483.2" y1="189.1" x2="532.7" y2="189.1" stroke="#5f6d80" stroke-width="0.7"/>
<text x="507.95000000000005" y="186.1" font-size="5.0" text-anchor="middle" fill="#6a7788" textLength="39.6" lengthAdjust="spacingAndGlyphs" >h підв.-0мм</text>
<text x="507.95000000000005" y="195.9" font-size="5.0" text-anchor="middle" fill="#6a7788" textLength="45.0" lengthAdjust="spacingAndGlyphs" >h вікна-2700мм</text>
<text x="535" y="190.9" font-size="5.2" text-anchor="start" fill="#6a7788" textLength="31" lengthAdjust="spacingAndGlyphs" >(3-24 пов.)</text>
<line x1="591" y1="168.6" x2="639.6" y2="168.6" stroke="#5f6d80" stroke-width="0.7"/>
<text x="615.3" y="165.6" font-size="5.0" text-anchor="middle" fill="#6a7788" textLength="38.9" lengthAdjust="spacingAndGlyphs" >h підв.-900мм</text>
<text x="615.3" y="175.4" font-size="5.0" text-anchor="middle" fill="#6a7788" textLength="44.2" lengthAdjust="spacingAndGlyphs" >h вікна-2100мм</text>
<text x="642.8" y="170.4" font-size="5.2" text-anchor="start" fill="#6a7788" textLength="21" lengthAdjust="spacingAndGlyphs" >(2 пов.)</text>
<line x1="591" y1="189.1" x2="639.6" y2="189.1" stroke="#5f6d80" stroke-width="0.7"/>
<text x="615.3" y="186.1" font-size="5.0" text-anchor="middle" fill="#6a7788" textLength="38.9" lengthAdjust="spacingAndGlyphs" >h підв.-900мм</text>
<text x="615.3" y="195.9" font-size="5.0" text-anchor="middle" fill="#6a7788" textLength="44.2" lengthAdjust="spacingAndGlyphs" >h вікна-1800мм</text>
<text x="642.8" y="190.9" font-size="5.2" text-anchor="start" fill="#6a7788" textLength="31" lengthAdjust="spacingAndGlyphs" >(3-24 пов.)</text>
<line x1="690.8" y1="168.6" x2="738.8" y2="168.6" stroke="#5f6d80" stroke-width="0.7"/>
<text x="714.8" y="165.6" font-size="5.0" text-anchor="middle" fill="#6a7788" textLength="38.4" lengthAdjust="spacingAndGlyphs" >h підв.-900мм</text>
<text x="714.8" y="175.4" font-size="5.0" text-anchor="middle" fill="#6a7788" textLength="43.7" lengthAdjust="spacingAndGlyphs" >h вікна-2100мм</text>
<text x="742" y="170.4" font-size="5.2" text-anchor="start" fill="#6a7788" textLength="21" lengthAdjust="spacingAndGlyphs" >(2 пов.)</text>
<line x1="690.8" y1="189.1" x2="738.8" y2="189.1" stroke="#5f6d80" stroke-width="0.7"/>
<text x="714.8" y="186.1" font-size="5.0" text-anchor="middle" fill="#6a7788" textLength="38.4" lengthAdjust="spacingAndGlyphs" >h підв.-900мм</text>
<text x="714.8" y="195.9" font-size="5.0" text-anchor="middle" fill="#6a7788" textLength="43.7" lengthAdjust="spacingAndGlyphs" >h вікна-1800мм</text>
<text x="742" y="190.9" font-size="5.2" text-anchor="start" fill="#6a7788" textLength="31" lengthAdjust="spacingAndGlyphs" >(3-24 пов.)</text>
</g>
<text x="590.4" y="515" font-size="10.8" text-anchor="start" fill="#2b2b2b" textLength="85" lengthAdjust="spacingAndGlyphs" stroke="#2b2b2b" stroke-width="0.32">Умовні позначення</text>
<polygon points="581.6,524.6 581.6,539.8 592,532.1" fill="#e0161d" stroke="none" stroke-width="0" />
<text x="594.4" y="535" font-size="10.8" text-anchor="start" fill="#2b2b2b" textLength="85.6" lengthAdjust="spacingAndGlyphs" stroke="#2b2b2b" stroke-width="0.32">– Вхід до квартири</text>
<polygon points="581.6,545.9 581.6,553.9 589.6,549.9" fill="#111" stroke="none" stroke-width="0" />
<text x="594.4" y="552.6" font-size="10.8" text-anchor="start" fill="#2b2b2b" textLength="110.4" lengthAdjust="spacingAndGlyphs" stroke="#2b2b2b" stroke-width="0.32">– Вентиляційна решітка</text>
<rect x="574" y="560" width="18" height="14" stroke="#222" stroke-width="1.1" fill="url(#crossk)" />
<text x="594.4" y="570.2" font-size="10.8" text-anchor="start" fill="#2b2b2b" textLength="63.2" lengthAdjust="spacingAndGlyphs" stroke="#2b2b2b" stroke-width="0.32">– Волога зона</text>
<text x="92.4" y="610.9" font-size="11.34" text-anchor="start" fill="#2b2b2b" textLength="44.3" lengthAdjust="spacingAndGlyphs" stroke="#2b2b2b" stroke-width="0.32">Примітки:</text>
<text x="92.4" y="624.4" font-size="11.34" text-anchor="start" fill="#2b2b2b" textLength="401.6" lengthAdjust="spacingAndGlyphs" stroke="#2b2b2b" stroke-width="0.32">1. Після завершення будівництва площа квартири може змінюватись або уточнюватись</text>
<text x="92.4" y="637.5" font-size="11.34" text-anchor="start" fill="#2b2b2b" textLength="379.6" lengthAdjust="spacingAndGlyphs" stroke="#2b2b2b" stroke-width="0.32">2. Розміщення сантехнічного обладнання та кухонних гарнітурів показано умовно</text>
<text x="92.4" y="651.2" font-size="11.34" text-anchor="start" fill="#2b2b2b" textLength="256.1" lengthAdjust="spacingAndGlyphs" stroke="#2b2b2b" stroke-width="0.32">3. Площа квартир підрахована згідно ДБН В.2.2-15-2005</text>
<text x="92.4" y="663.7" font-size="11.34" text-anchor="start" fill="#2b2b2b" textLength="362.1" lengthAdjust="spacingAndGlyphs" stroke="#2b2b2b" stroke-width="0.32">4. Площа приміщень (окрім санвузлів) вказані з урахуванням шару штукатурки</text>
<text x="92.4" y="676.5" font-size="11.34" text-anchor="start" fill="#2b2b2b" textLength="309.1" lengthAdjust="spacingAndGlyphs" stroke="#2b2b2b" stroke-width="0.32">5. Габаритні розміри приміщень вказані в будівельних конструкціях</text>
<line x1="47.8" y1="694.3" x2="988" y2="694.3" stroke="#111" stroke-width="2.1"/>
<line x1="547.6" y1="623.4" x2="988" y2="623.4" stroke="#111" stroke-width="2.0"/>
<line x1="547.6" y1="623.4" x2="547.6" y2="694.3" stroke="#111" stroke-width="2.0"/>
<line x1="547.6" y1="635.0" x2="702.5" y2="635.0" stroke="#111" stroke-width="1.8"/>
<line x1="547.6" y1="646.9" x2="702.5" y2="646.9" stroke="#111" stroke-width="1.0"/>
<line x1="547.6" y1="658.8" x2="702.5" y2="658.8" stroke="#111" stroke-width="1.0"/>
<line x1="547.6" y1="670.7" x2="702.5" y2="670.7" stroke="#111" stroke-width="1.0"/>
<line x1="547.6" y1="682.6" x2="702.5" y2="682.6" stroke="#111" stroke-width="1.0"/>
<line x1="595.1" y1="623.4" x2="595.1" y2="694.3" stroke="#111" stroke-width="1.8"/>
<line x1="643.0" y1="623.4" x2="643.0" y2="694.3" stroke="#111" stroke-width="1.8"/>
<line x1="678.7" y1="623.4" x2="678.7" y2="694.3" stroke="#111" stroke-width="1.8"/>
<line x1="702.5" y1="623.4" x2="702.5" y2="694.3" stroke="#111" stroke-width="1.8"/>
<line x1="571" y1="623.4" x2="571" y2="635" stroke="#111" stroke-width="1.2"/>
<line x1="619.1" y1="623.4" x2="619.1" y2="635" stroke="#111" stroke-width="1.2"/>
<line x1="702.5" y1="658.9" x2="988" y2="658.9" stroke="#111" stroke-width="1.8"/>
<line x1="904.5" y1="623.4" x2="904.5" y2="694.3" stroke="#111" stroke-width="1.8"/>
<line x1="940.5" y1="623.4" x2="940.5" y2="658.9" stroke="#111" stroke-width="1.6"/>
<line x1="904.5" y1="635.2" x2="988" y2="635.2" stroke="#111" stroke-width="1.6"/>
<text x="559.3" y="632" font-size="6.5" text-anchor="middle" fill="#2b2b2b" textLength="8" lengthAdjust="spacingAndGlyphs" >Зм.</text>
<text x="583" y="632" font-size="6.5" text-anchor="middle" fill="#2b2b2b" textLength="16" lengthAdjust="spacingAndGlyphs" >Кільк.</text>
<text x="607" y="632" font-size="6.5" text-anchor="middle" fill="#2b2b2b" textLength="11" lengthAdjust="spacingAndGlyphs" >Арк.</text>
<text x="631" y="632" font-size="6.5" text-anchor="middle" fill="#2b2b2b" textLength="18" lengthAdjust="spacingAndGlyphs" >№Док.</text>
<text x="660.8" y="632" font-size="6.5" text-anchor="middle" fill="#2b2b2b" textLength="18" lengthAdjust="spacingAndGlyphs" >Підпис</text>
<text x="690.6" y="632" font-size="6.5" text-anchor="middle" fill="#2b2b2b" textLength="15" lengthAdjust="spacingAndGlyphs" >Дата</text>
<text x="550.5" y="643.8" font-size="6.5" text-anchor="start" fill="#2b2b2b" textLength="12" lengthAdjust="spacingAndGlyphs" >ГАП</text>
<text x="598.5" y="643.8" font-size="6.5" text-anchor="start" fill="#2b2b2b" textLength="33" lengthAdjust="spacingAndGlyphs" >Нездоровий</text>
<text x="550.5" y="655.6999999999999" font-size="6.5" text-anchor="start" fill="#2b2b2b" textLength="9" lengthAdjust="spacingAndGlyphs" >ГІП</text>
<text x="598.5" y="655.6999999999999" font-size="6.5" text-anchor="start" fill="#2b2b2b" textLength="16" lengthAdjust="spacingAndGlyphs" >Усков</text>
<text x="550.5" y="667.5999999999999" font-size="6.5" text-anchor="start" fill="#2b2b2b" textLength="26" lengthAdjust="spacingAndGlyphs" >Розробив</text>
<text x="598.5" y="667.5999999999999" font-size="6.5" text-anchor="start" fill="#2b2b2b" textLength="24" lengthAdjust="spacingAndGlyphs" >Косирев</text>
<text x="550.5" y="679.5" font-size="6.5" text-anchor="start" fill="#2b2b2b" textLength="28" lengthAdjust="spacingAndGlyphs" >Перевірив</text>
<text x="598.5" y="679.5" font-size="6.5" text-anchor="start" fill="#2b2b2b" textLength="33" lengthAdjust="spacingAndGlyphs" >Нездоровий</text>
<text x="550.5" y="691.4" font-size="6.5" text-anchor="start" fill="#2b2b2b" textLength="34" lengthAdjust="spacingAndGlyphs" >Норм.контр.</text>
<text x="598.5" y="691.4" font-size="6.5" text-anchor="start" fill="#2b2b2b" textLength="16" lengthAdjust="spacingAndGlyphs" >Усков</text>
<text x="803.7" y="635.2" font-size="10.26" text-anchor="middle" fill="#2b2b2b" textLength="151.2" lengthAdjust="spacingAndGlyphs" stroke="#2b2b2b" stroke-width="0.32">Будівництво житлового комплексу на</text>
<text x="803.7" y="643.6" font-size="10.26" text-anchor="middle" fill="#2b2b2b" textLength="91.8" lengthAdjust="spacingAndGlyphs" stroke="#2b2b2b" stroke-width="0.32">вул. Воскресенській, 2а</text>
<text x="803.7" y="653.3" font-size="10.26" text-anchor="middle" fill="#2b2b2b" textLength="127.8" lengthAdjust="spacingAndGlyphs" stroke="#2b2b2b" stroke-width="0.32">у Дніпровському районі м. Києва</text>
<text x="804.2" y="672.2" font-size="10.26" text-anchor="middle" fill="#2b2b2b" textLength="38.7" lengthAdjust="spacingAndGlyphs" stroke="#2b2b2b" stroke-width="0.32">Секція №1</text>
<text x="803.7" y="683.9" font-size="10.26" text-anchor="middle" fill="#2b2b2b" textLength="136.8" lengthAdjust="spacingAndGlyphs" stroke="#2b2b2b" stroke-width="0.32">План двокімнатної квартири – 2А</text>
<text x="922.5" y="631.5" font-size="8.64" text-anchor="middle" fill="#2b2b2b" textLength="23" lengthAdjust="spacingAndGlyphs" stroke="#2b2b2b" stroke-width="0.32">Аркуш</text>
<text x="964.3" y="631.5" font-size="8.64" text-anchor="middle" fill="#2b2b2b" textLength="28" lengthAdjust="spacingAndGlyphs" stroke="#2b2b2b" stroke-width="0.32">Аркушів</text>
<text x="922.8" y="649.5" font-size="9.72" text-anchor="middle" fill="#2b2b2b" textLength="9" lengthAdjust="spacingAndGlyphs" stroke="#2b2b2b" stroke-width="0.32">09</text>
<g>
<path d="M908.1,668.6 h11.3 l5.4,5.8 v10.8 h-9.9 l-6.8,-5.8 z" fill="#f1ede6" stroke="#858585" stroke-width="1.1" />
<path d="M911,673 h6 M913,676 h5 l3,3 M911,679 h4" fill="none" stroke="#c8bfb0" stroke-width="0.5" />
</g>
<text x="926.6" y="680.3" font-size="16.42" text-anchor="start" fill="#444" textLength="58" lengthAdjust="spacingAndGlyphs"  >FORMA</text>
<text x="927" y="686.4" font-size="4.6" text-anchor="start" fill="#c9956a" textLength="57.6" lengthAdjust="spacingAndGlyphs" >ПРОЕКТ МАЙСТЕРНЯ</text>
<text x="159.5" y="463.8" font-size="11.34" text-anchor="start" fill="#2b2b2b" textLength="216" lengthAdjust="spacingAndGlyphs" stroke="#2b2b2b" stroke-width="0.32">Схема розташування квартири на поверсі</text>
<g fill="none" stroke-linecap="square">
<rect x="289.4" y="473.7" width="48.4" height="37.6" stroke="none" stroke-width="0" fill="#f6bcbc" />
<path d="M289.4,511.3 H338 M335.5,474 V511" fill="none" stroke="#d99" stroke-width="0.6" />
<path d="M315,474 V500 H335 M292,500 h10 v4 h-10 z M320,502 h12 v8 M300,505 v6" fill="none" stroke="#c88" stroke-width="0.6" />
<line x1="338.5" y1="475.0" x2="352" y2="475.0" stroke="#555" stroke-width="0.7"/>
<line x1="338.5" y1="476.85" x2="352" y2="476.85" stroke="#555" stroke-width="0.7"/>
<line x1="338.5" y1="478.7" x2="352" y2="478.7" stroke="#555" stroke-width="0.7"/>
<line x1="338.5" y1="480.55" x2="352" y2="480.55" stroke="#555" stroke-width="0.7"/>
<line x1="338.5" y1="482.4" x2="352" y2="482.4" stroke="#555" stroke-width="0.7"/>
<line x1="338.5" y1="484.25" x2="352" y2="484.25" stroke="#555" stroke-width="0.7"/>
<line x1="338.5" y1="486.1" x2="352" y2="486.1" stroke="#555" stroke-width="0.7"/>
<line x1="338.5" y1="487.95" x2="352" y2="487.95" stroke="#555" stroke-width="0.7"/>
<line x1="338.5" y1="489.8" x2="352" y2="489.8" stroke="#555" stroke-width="0.7"/>
<line x1="338.5" y1="491.65" x2="352" y2="491.65" stroke="#555" stroke-width="0.7"/>
<line x1="338.5" y1="493.5" x2="352" y2="493.5" stroke="#555" stroke-width="0.7"/>
<line x1="338.5" y1="495.35" x2="352" y2="495.35" stroke="#555" stroke-width="0.7"/>
<line x1="338.5" y1="497.2" x2="352" y2="497.2" stroke="#555" stroke-width="0.7"/>
<line x1="338.5" y1="507.0" x2="352" y2="507.0" stroke="#555" stroke-width="0.7"/>
<line x1="338.5" y1="508.85" x2="352" y2="508.85" stroke="#555" stroke-width="0.7"/>
<line x1="338.5" y1="510.7" x2="352" y2="510.7" stroke="#555" stroke-width="0.7"/>
<line x1="338.5" y1="512.55" x2="352" y2="512.55" stroke="#555" stroke-width="0.7"/>
<line x1="338.5" y1="514.4" x2="352" y2="514.4" stroke="#555" stroke-width="0.7"/>
<line x1="338.5" y1="516.25" x2="352" y2="516.25" stroke="#555" stroke-width="0.7"/>
<line x1="338.5" y1="518.1" x2="352" y2="518.1" stroke="#555" stroke-width="0.7"/>
<path d="M352.2,473.7 H135.3 A12,12 0 0 0 128.9,491.5 L170.9,539.2 Q178,550 191.2,552.6 H371.2 Q384,551 394.1,543 L410.6,530.3 L373,486 Q365,476 352.2,473.7 V552.6" fill="none" stroke="#161616" stroke-width="2.2" />
<path d="M137.2,474 V487.7 L128.9,491.5" fill="none" stroke="#161616" stroke-width="1.2" />
<line x1="154.4" y1="473.7" x2="154.4" y2="491.5" stroke="#161616" stroke-width="1.5"/>
<line x1="170.9" y1="473.7" x2="170.9" y2="491.5" stroke="#161616" stroke-width="1.5"/>
<line x1="187.8" y1="473.7" x2="187.8" y2="511.2" stroke="#161616" stroke-width="1.8"/>
<line x1="203.4" y1="473.7" x2="203.4" y2="500.4" stroke="#161616" stroke-width="1.5"/>
<line x1="218.4" y1="473.7" x2="218.4" y2="500.4" stroke="#161616" stroke-width="1.5"/>
<line x1="234.6" y1="473.7" x2="234.6" y2="511.2" stroke="#161616" stroke-width="1.8"/>
<line x1="249" y1="473.7" x2="249" y2="504" stroke="#161616" stroke-width="1.5"/>
<line x1="257.4" y1="483.6" x2="257.4" y2="504" stroke="#161616" stroke-width="1.3"/>
<line x1="266.4" y1="484.8" x2="266.4" y2="511.2" stroke="#161616" stroke-width="1.7"/>
<line x1="274.8" y1="473.7" x2="274.8" y2="511.2" stroke="#161616" stroke-width="1.8"/>
<line x1="154.4" y1="491.5" x2="166" y2="491.5" stroke="#161616" stroke-width="1.2"/>
<line x1="170.9" y1="491.5" x2="187.8" y2="491.5" stroke="#161616" stroke-width="1.0"/>
<line x1="187.8" y1="480" x2="203.4" y2="480" stroke="#161616" stroke-width="0.9"/>
<line x1="187.8" y1="498.6" x2="203.4" y2="498.6" stroke="#161616" stroke-width="1.0"/>
<line x1="203.4" y1="500.4" x2="212" y2="500.4" stroke="#161616" stroke-width="1.0"/>
<line x1="218.4" y1="500.4" x2="227" y2="500.4" stroke="#161616" stroke-width="1.0"/>
<line x1="249" y1="483.6" x2="266.4" y2="483.6" stroke="#161616" stroke-width="1.0"/>
<line x1="234.6" y1="502.2" x2="249" y2="502.2" stroke="#161616" stroke-width="1.0"/>
<line x1="274.8" y1="500" x2="289.4" y2="500" stroke="#161616" stroke-width="0.8"/>
<line x1="192" y1="507" x2="234" y2="507" stroke="#161616" stroke-width="0.8"/>
<line x1="184.8" y1="511.2" x2="289.4" y2="511.2" stroke="#161616" stroke-width="1.6"/>
<line x1="178.5" y1="520.6" x2="352.2" y2="520.6" stroke="#161616" stroke-width="1.5"/>
<line x1="160.7" y1="497.3" x2="178.5" y2="520.2" stroke="#161616" stroke-width="1.3"/>
<line x1="145.4" y1="510" x2="160.7" y2="497.3" stroke="#161616" stroke-width="1.1"/>
<line x1="154.3" y1="520.8" x2="169" y2="508.7" stroke="#161616" stroke-width="1.1"/>
<line x1="167" y1="502" x2="181" y2="513.5" stroke="#161616" stroke-width="2.4"/>
<line x1="236" y1="482.5" x2="248" y2="482.5" stroke="#444" stroke-width="0.8"/>
<line x1="236" y1="484.4" x2="248" y2="484.4" stroke="#444" stroke-width="0.8"/>
<line x1="236" y1="486.3" x2="248" y2="486.3" stroke="#444" stroke-width="0.8"/>
<line x1="236" y1="488.2" x2="248" y2="488.2" stroke="#444" stroke-width="0.8"/>
<line x1="236" y1="490.1" x2="248" y2="490.1" stroke="#444" stroke-width="0.8"/>
<line x1="236" y1="492.0" x2="248" y2="492.0" stroke="#444" stroke-width="0.8"/>
<line x1="236" y1="493.9" x2="248" y2="493.9" stroke="#444" stroke-width="0.8"/>
<line x1="242" y1="482" x2="242" y2="495" stroke="#161616" stroke-width="1.2"/>
<rect x="249.6" y="484.8" width="7.5" height="7.8" stroke="#161616" stroke-width="0.9" fill="none" />
<rect x="249.6" y="493.2" width="7.5" height="8.2" stroke="#161616" stroke-width="0.9" fill="none" />
<circle cx="253.3" cy="488.7" r="2.4" fill="none" stroke="#333" stroke-width="0.7"/><circle cx="253.3" cy="497.3" r="2.4" fill="none" stroke="#333" stroke-width="0.7"/>
<line x1="276.5" y1="482.5" x2="288.5" y2="482.5" stroke="#444" stroke-width="0.8"/>
<line x1="276.5" y1="484.4" x2="288.5" y2="484.4" stroke="#444" stroke-width="0.8"/>
<line x1="276.5" y1="486.3" x2="288.5" y2="486.3" stroke="#444" stroke-width="0.8"/>
<line x1="276.5" y1="488.2" x2="288.5" y2="488.2" stroke="#444" stroke-width="0.8"/>
<line x1="276.5" y1="490.1" x2="288.5" y2="490.1" stroke="#444" stroke-width="0.8"/>
<line x1="276.5" y1="492.0" x2="288.5" y2="492.0" stroke="#444" stroke-width="0.8"/>
<line x1="276.5" y1="493.9" x2="288.5" y2="493.9" stroke="#444" stroke-width="0.8"/>
<line x1="282.5" y1="482" x2="282.5" y2="496" stroke="#161616" stroke-width="1.2"/>
<rect x="235.4" y="503.5" width="13" height="7.5" stroke="#161616" stroke-width="0.9" fill="none" />
<rect x="250" y="504.5" width="15" height="6.5" stroke="#161616" stroke-width="0.9" fill="none" />
<line x1="250" y1="504.5" x2="265" y2="511" stroke="#444" stroke-width="0.6"/>
<line x1="265" y1="504.5" x2="250" y2="511" stroke="#444" stroke-width="0.6"/>
<rect x="192" y="503" width="10" height="8" stroke="#333" stroke-width="0.8" fill="none" />
<rect x="212" y="503" width="20" height="7" stroke="#333" stroke-width="0.8" fill="none" />
<path d="M188,499 q4,-3 8,0 M205,503 q6,-4 10,2 M224,506 q5,-5 10,0" fill="none" stroke="#444" stroke-width="0.7" />
<line x1="204" y1="520.6" x2="204" y2="552.6" stroke="#161616" stroke-width="1.7"/>
<line x1="237" y1="520.6" x2="237" y2="552.6" stroke="#161616" stroke-width="1.7"/>
<line x1="290.4" y1="520.6" x2="290.4" y2="552.6" stroke="#161616" stroke-width="1.7"/>
<line x1="299.8" y1="520.6" x2="299.8" y2="552.6" stroke="#161616" stroke-width="1.7"/>
<line x1="336.9" y1="520.6" x2="336.9" y2="552.6" stroke="#161616" stroke-width="1.7"/>
<path d="M187.2,552.6 V535.2 H202.8 M187.2,543 H202.8 M195.0,535.2 v3 l3,2 v3 M195.0,543 v3 l3,2 v3" fill="none" stroke="#161616" stroke-width="1.3" />
<line x1="186.2" y1="552.6" x2="191.2" y2="552.6" stroke="#161616" stroke-width="2.5"/>
<path d="M223.2,552.6 V535.2 H236.4 M223.2,543 H236.4 M229.8,535.2 v3 l3,2 v3 M229.8,543 v3 l3,2 v3" fill="none" stroke="#161616" stroke-width="1.3" />
<line x1="222.2" y1="552.6" x2="227.2" y2="552.6" stroke="#161616" stroke-width="2.5"/>
<path d="M253.8,552.6 V535.2 H270 M253.8,543 H270 M261.9,535.2 v3 l3,2 v3 M261.9,543 v3 l3,2 v3" fill="none" stroke="#161616" stroke-width="1.3" />
<line x1="252.8" y1="552.6" x2="257.8" y2="552.6" stroke="#161616" stroke-width="2.5"/>
<path d="M291.4,552.6 V535.2 H299 M291.4,543 H299 M295.2,535.2 v3 l3,2 v3 M295.2,543 v3 l3,2 v3" fill="none" stroke="#161616" stroke-width="1.3" />
<line x1="290.4" y1="552.6" x2="295.4" y2="552.6" stroke="#161616" stroke-width="2.5"/>
<path d="M319,552.6 V535.2 H336.9 M319,543 H336.9 M327.95,535.2 v3 l3,2 v3 M327.95,543 v3 l3,2 v3" fill="none" stroke="#161616" stroke-width="1.3" />
<line x1="318" y1="552.6" x2="323" y2="552.6" stroke="#161616" stroke-width="2.5"/>
<path d="M353.4,552.6 V535.2 H369.3 M353.4,543 H369.3 M361.35,535.2 v3 l3,2 v3 M361.35,543 v3 l3,2 v3" fill="none" stroke="#161616" stroke-width="1.3" />
<line x1="352.4" y1="552.6" x2="357.4" y2="552.6" stroke="#161616" stroke-width="2.5"/>
<path d="M222,524 q5,3 10,0 q5,3 10,0 M252,524 q4,3 8,0" fill="none" stroke="#444" stroke-width="0.8" />
<path d="M318,524 q6,4 14,0" fill="none" stroke="#444" stroke-width="0.8" />
<rect x="190" y="505" width="3.5" height="3" fill="#333"/>
<rect x="196" y="507" width="3.5" height="3" fill="#333"/>
<rect x="214" y="505" width="3.5" height="3" fill="#333"/>
<rect x="226" y="505" width="3.5" height="3" fill="#333"/>
<rect x="256" y="528" width="3.5" height="3" fill="#333"/>
<rect x="264" y="528" width="3.5" height="3" fill="#333"/>
<rect x="230" y="526" width="3.5" height="3" fill="#333"/>
<rect x="214" y="526" width="3.5" height="3" fill="#333"/>
<rect x="322" y="526" width="3.5" height="3" fill="#333"/>
<rect x="330" y="526" width="3.5" height="3" fill="#333"/>
<path d="M166,496 l5,5 l-3,3 l4,4 M152,518 l6,-5 M175,482 h8 v9" fill="none" stroke="#333" stroke-width="0.9" />
<path d="M188,484 h15 M188,490 h10 M220,506 h14 M252,505 h12" fill="none" stroke="#444" stroke-width="0.8" />
<line x1="371.5" y1="496.5" x2="376" y2="493" stroke="#161616" stroke-width="1.1"/>
<line x1="385.5" y1="509.5" x2="390" y2="506" stroke="#161616" stroke-width="1.1"/>
<line x1="379.5" y1="529.5" x2="383.5" y2="533.5" stroke="#161616" stroke-width="1.1"/>
<line x1="387" y1="543.5" x2="391" y2="540" stroke="#161616" stroke-width="1.1"/>
<path d="M356,518 q4,-8 10,-6 l5,-4 l5,4 l-4,5 q3,5 -4,7 h-11" fill="none" stroke="#333" stroke-width="0.8" />
<rect x="367" y="505" width="5" height="4" fill="#222" transform="rotate(35 369.5 507)"/>
</g>
</svg></body></html>
